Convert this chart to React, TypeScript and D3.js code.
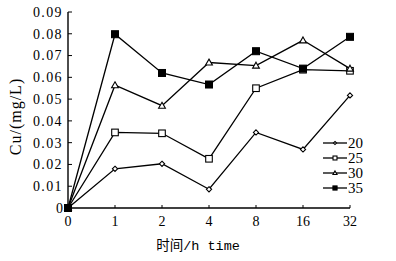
import React from "react";
import * as d3 from "d3";

const categories = ["0", "1", "2", "4", "8", "16", "32"];
const yTicks = [0, 0.01, 0.02, 0.03, 0.04, 0.05, 0.06, 0.07, 0.08, 0.09];
const s20 = [0, 0.018, 0.0203, 0.0086, 0.0347, 0.0269, 0.0517];
const s25 = [0, 0.0347, 0.0343, 0.0226, 0.055, 0.0635, 0.063];
const s30 = [0, 0.0564, 0.047, 0.0668, 0.0654, 0.077, 0.064];
const s35 = [0, 0.0798, 0.062, 0.0567, 0.072, 0.064, 0.0786];
const seriesNames = ["20", "25", "30", "35"];

const W = 396, H = 261;
const FONT = "'Liberation Serif', 'DejaVu Serif', serif";
const MONO = "'Liberation Mono', 'Noto Sans CJK SC', monospace";

function Marker({ kind, x, y, scale = 1 }: { kind: string; x: number; y: number; scale?: number }) {
  if (kind === "20") {
    const r = 2.6 * scale;
    return <path d={`M${x},${y - r}L${x + r},${y}L${x},${y + r}L${x - r},${y}Z`} fill="#fff" stroke="#000" strokeWidth={1.1} />;
  }
  if (kind === "25") {
    const s = 3.3 * scale;
    return <rect x={x - s} y={y - s} width={2 * s} height={2 * s} fill="#fff" stroke="#000" strokeWidth={1.1} />;
  }
  if (kind === "30") {
    const s = 3.4 * scale;
    return <path d={`M${x},${y - s}L${x + s},${y + s * 0.75}L${x - s},${y + s * 0.75}Z`} fill="#fff" stroke="#000" strokeWidth={1.1} />;
  }
  const s = 3.5 * scale;
  return <rect x={x - s} y={y - s} width={2 * s} height={2 * s} fill="#000" stroke="#000" strokeWidth={1} />;
}

export default function App() {
  const x = d3.scalePoint<string>().domain(categories).range([68, 350]);
  const y = d3.scaleLinear().domain([0, 0.09]).range([208, 12]);
  const fmt = (v: number) => (v === 0 ? "0" : d3.format(".2f")(v));
  const data: [string, number[]][] = [
    ["20", s20],
    ["25", s25],
    ["30", s30],
    ["35", s35],
  ];
  const line = d3
    .line<number>()
    .x((_, i) => x(categories[i]) as number)
    .y((d) => y(d));
  const legendY = d3.scalePoint<string>().domain(seriesNames).range([143, 188]);

  return (
    <svg width={W} height={H} style={{ position: "absolute", left: 0, top: 0, background: "#fff" }}>
      <rect width={W} height={H} fill="#fff" />
      {/* axes */}
      <line x1={68} x2={68} y1={y(0)} y2={y(0.09)} stroke="#000" strokeWidth={1.4} />
      <line x1={68} x2={350} y1={y(0)} y2={y(0)} stroke="#000" strokeWidth={1.4} />
      {yTicks.map((t) => (
        <g key={t}>
          <line x1={68} x2={72} y1={y(t)} y2={y(t)} stroke="#000" strokeWidth={1} />
          <text x={63} y={y(t)} dy="0.35em" textAnchor="end" fontFamily={FONT} fontSize={14} letterSpacing={t === 0 ? 0 : 1.4}>
            {fmt(t)}
          </text>
        </g>
      ))}
      {categories.map((c) => (
        <g key={c}>
          <line x1={x(c)} x2={x(c)} y1={y(0)} y2={y(0) - 3} stroke="#000" strokeWidth={1} />
          <text x={x(c)} y={y(0) + 18} textAnchor="middle" fontFamily={FONT} fontSize={14}>
            {c}
          </text>
        </g>
      ))}
      <text x={198} y={250} textAnchor="middle" fontFamily={MONO} fontSize={13.5}>
        时间/h time
      </text>
      <text transform={`translate(21,116.5) rotate(-90)`} textAnchor="middle" fontFamily={FONT} fontSize={16} letterSpacing={1}>
        Cu/(mg/L)
      </text>
      {/* series */}
      {data.map(([name, vals]) => (
        <g key={name}>
          <path d={line(vals) || ""} fill="none" stroke="#000" strokeWidth={1.3} />
          {vals.map((v, i) => (
            <Marker key={i} kind={name} x={x(categories[i]) as number} y={y(v)} />
          ))}
        </g>
      ))}
      {/* legend */}
      {seriesNames.map((n) => {
        const ly = legendY(n) as number;
        return (
          <g key={n}>
            <line x1={323} x2={347} y1={ly} y2={ly} stroke="#000" strokeWidth={1.3} />
            <Marker kind={n} x={335} y={ly} scale={0.6} />
            <text x={348} y={ly} dy="0.35em" fontFamily={FONT} fontSize={15}>
              {n}
            </text>
          </g>
        );
      })}
    </svg>
  );
}
